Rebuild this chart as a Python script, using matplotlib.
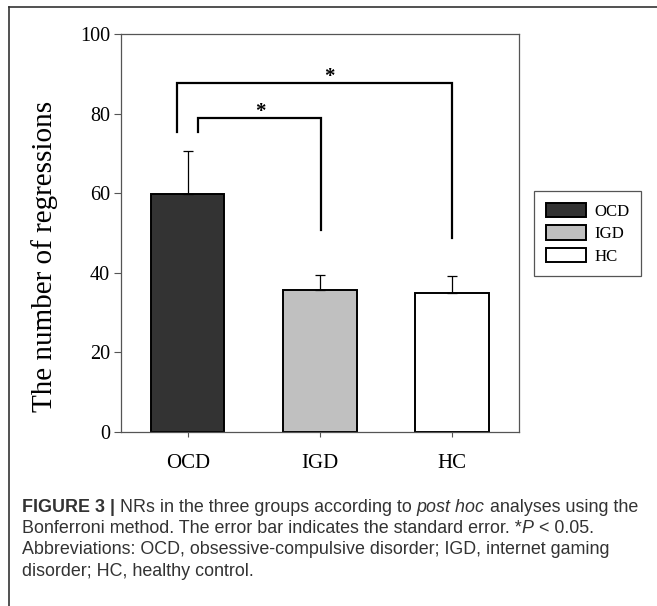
import matplotlib
matplotlib.use("Agg")
import matplotlib.pyplot as plt
from matplotlib.lines import Line2D

groups = ["OCD", "IGD", "HC"]
means = [59.7, 35.7, 35.0]
errors = [11.0, 3.7, 4.2]
bar_colors = ["#333333", "#c0c0c0", "#ffffff"]
yticks = [0, 20, 40, 60, 80, 100]
ylabel = "The number of regressions"

# significance brackets: (x_left, y_left_bottom, x_right, y_right_bottom, y_top, star_x)
brackets = [(-0.08, 75.4, 2.0, 48.7, 87.6, 1.07),
            (0.076, 75.3, 1.012, 50.8, 78.8, 0.553)]

caption_lines = [
    [("FIGURE 3 | ", "bold", "normal"), ("NRs in the three groups according to ", "normal", "normal"),
     ("post hoc", "normal", "italic"), (" analyses using the", "normal", "normal")],
    [("Bonferroni method. The error bar indicates the standard error. *", "normal", "normal"),
     ("P", "normal", "italic"), (" < 0.05.", "normal", "normal")],
    [("Abbreviations: OCD, obsessive-compulsive disorder; IGD, internet gaming", "normal", "normal")],
    [("disorder; HC, healthy control.", "normal", "normal")],
]

W, H = 657, 606
fig = plt.figure(figsize=(W / 100, H / 100), dpi=100)
ax = fig.add_axes([121 / W, 1 - 432 / H, (518.7 - 121) / W, (432 - 34) / H])

serif = "Liberation Serif"
x = list(range(len(groups)))
bars = ax.bar(x, means, width=0.555, color=bar_colors, edgecolor="black", linewidth=1.4, zorder=2)
ax.errorbar(x, means, yerr=[[0] * 3, errors], fmt="none", ecolor="black", elinewidth=0.9,
            capsize=3.3, capthick=0.9, zorder=3)

ax.set_xlim(-0.505, 2.505)
ax.set_ylim(0, 100)
ax.set_yticks(yticks)
ax.set_xticks(x)
ax.set_xticklabels(groups, fontfamily=serif, fontsize=15)
ax.set_yticklabels([str(t) for t in yticks], fontfamily=serif, fontsize=14.5)
ax.tick_params(axis="y", direction="out", length=5, width=0.8, color="#555555", pad=3)
ax.tick_params(axis="x", direction="out", length=3.5, width=0.8, color="#555555", pad=12)
for s in ax.spines.values():
    s.set_color("#555555")
    s.set_linewidth(0.9)
ax.set_ylabel(ylabel, fontfamily=serif, fontsize=21)
ax.yaxis.set_label_coords(-0.158, 0.441)

for xl, yl, xr, yr, yt, sx in brackets:
    ax.plot([xl, xl, xr, xr], [yl, yt, yt, yr], color="black", lw=1.6, solid_joinstyle="miter", zorder=4)
    ax.text(sx, yt - 0.9, "*", fontfamily=serif, fontsize=15, fontweight="bold",
            ha="center", va="bottom")

leg = fig.legend(bars, groups, loc="upper left", bbox_to_anchor=(534 / W, 1 - 191 / H),
                 bbox_transform=fig.transFigure, prop={"family": serif, "size": 12.1},
                 fancybox=False, edgecolor="#555555", framealpha=1, borderpad=0.7,
                 handlelength=2.4, handleheight=0.95, handletextpad=0.5, labelspacing=0.32,
                 borderaxespad=0)
leg.get_frame().set_linewidth(0.9)

# frame around the figure panel
fig.add_artist(Line2D([9 / W, 9 / W], [0, 1 - 7 / H], color="#333333", lw=1.2))
fig.add_artist(Line2D([9 / W, 1], [1 - 7 / H, 1 - 7 / H], color="#333333", lw=1.2))

# caption
fig.canvas.draw()
renderer = fig.canvas.get_renderer()
cap_font = "Liberation Sans"
y0 = 507
for i, line in enumerate(caption_lines):
    xpos = 22
    ypix = y0 + i * 21.5
    for txt, weight, style in line:
        t = fig.text(xpos / W, 1 - ypix / H, txt, fontfamily=cap_font, fontsize=12.9,
                     fontweight=weight, fontstyle=style, color="#333333", va="center", ha="left")
        bb = t.get_window_extent(renderer)
        xpos += bb.width

fig.savefig("out.png", dpi=100)
